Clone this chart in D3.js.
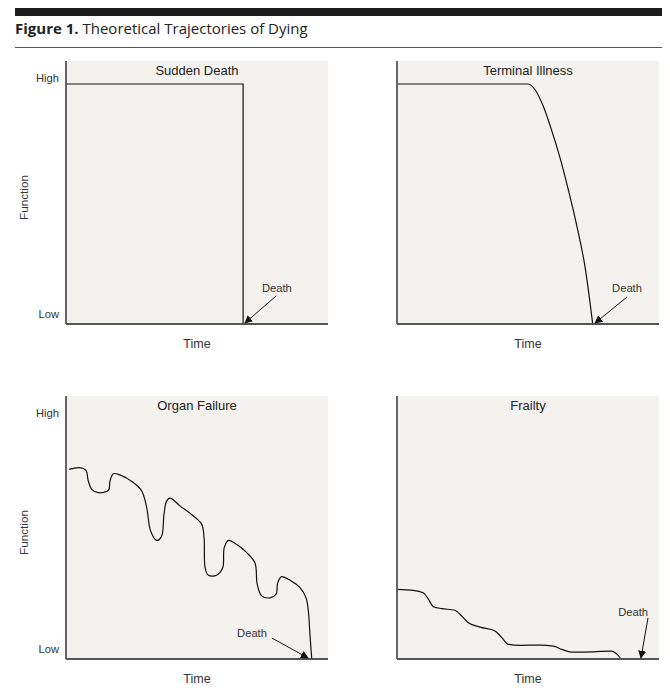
<!DOCTYPE html>
<html>
<head>
<meta charset="utf-8">
<script src="https://cdn.jsdelivr.net/npm/d3@7"></script>
<style>
  html, body { margin: 0; padding: 0; background: #fff; }
  svg { display: block; }
</style>
</head>
<body>
<svg id="chart" width="670" height="691"></svg>
<script>
// ---- Data (time 0-100, function 0 = Low, 100 = High) ----
const panelTitles = ["Sudden Death", "Terminal Illness", "Organ Failure", "Frailty"];
const yTickLabels = ["Low", "High"];
const xAxisLabel = "Time";
const yAxisLabel = "Function";
const deathLabel = "Death";

const suddenX = [0, 67.6, 67.6];
const suddenY = [100, 100, 0];

const terminalX = [0, 50.1, 52.7, 55.8, 59.0, 62.2, 65.4, 68.6, 71.8, 74.7];
const terminalY = [100, 100, 97.6, 90.8, 80.8, 69.3, 55.9, 41.1, 23.6, 0];

const organX = [1.2, 5.3, 7.6, 8.5, 9.8, 12.3, 16.2, 16.8, 18.1, 20.6, 25.7, 28.9, 30.8, 32.3, 34.6, 36.5, 37.4, 38.4, 39.7, 43.5, 48.6, 51.8, 52.7, 53.1, 54.3, 57.5, 59.8, 60.4, 62.0, 65.1, 69.0, 72.1, 73.0, 74.7, 77.9, 80.2, 80.8, 82.3, 85.5, 89.3, 91.6, 92.5, 93.1, 93.8];
const organY = [79.0, 79.7, 78.6, 74.2, 70.7, 69.3, 70.3, 74.2, 77.2, 76.7, 73.5, 70.0, 63.1, 53.3, 49.4, 51.2, 60.3, 65.8, 67.0, 63.8, 59.6, 56.1, 50.5, 38.0, 34.9, 34.9, 38.0, 46.4, 49.4, 47.8, 44.3, 40.1, 31.1, 26.3, 25.5, 27.0, 31.8, 34.3, 32.8, 29.7, 25.5, 20.0, 10.3, 0];

const frailX = [0, 6.2, 10.0, 12.0, 13.9, 17.1, 22.1, 24.7, 27.2, 31.7, 37.4, 40.0, 42.5, 46.9, 54.6, 59.7, 62.9, 66.7, 74.9, 81.9, 84.1, 85.8, 92.7];
const frailY = [29.0, 28.6, 27.6, 24.9, 21.8, 21.0, 20.3, 17.9, 15.1, 13.3, 11.7, 8.9, 6.1, 5.7, 5.8, 5.4, 4.0, 2.9, 3.0, 3.3, 1.9, 0, 0];

// "Death" annotations in data units: label point, arrow start, arrow tip
const deathLabelX = [80.5, 87.8, 71.0, 90.1];
const deathLabelY = [13.3, 13.3, 9.2, 17.9];
const arrowFromX = [80.2, 87.8, 78.6, 95.8];
const arrowFromY = [11.7, 11.25, 8.75, 17.1];
const arrowToX = [68.3, 75.6, 92.4, 93.1];
const arrowToY = [0.4, 0.4, 0.4, 0.4];

// ---- Layout ----
const svg = d3.select("#chart");
const panelW = 262, panelH = 263, highOffset = 240;
const panelLeft = [66, 397, 66, 397];
const panelTop = [61, 61, 396, 396];
const showY = [true, false, true, false];
const series = [
  [suddenX, suddenY, d3.curveLinear],
  [terminalX, terminalY, d3.curveMonotoneX],
  [organX, organY, d3.curveCatmullRom.alpha(0.5)],
  [frailX, frailY, d3.curveMonotoneX]
];

// Header
svg.append("rect").attr("x", 15).attr("y", 8).attr("width", 647).attr("height", 8).attr("fill", "#1c1c1c");
const title = svg.append("text").attr("x", 15).attr("y", 34)
  .attr("font-family", "'Open Sans', sans-serif").attr("font-size", 15).attr("fill", "#222");
title.append("tspan").attr("font-weight", "bold").text("Figure 1.");
title.append("tspan").text(" Theoretical Trajectories of Dying");
svg.append("line").attr("x1", 15).attr("x2", 662).attr("y1", 47.5).attr("y2", 47.5)
  .attr("stroke", "#555").attr("stroke-width", 1);

// Arrow marker
svg.append("defs").append("marker")
  .attr("id", "arrow").attr("viewBox", "0 0 10 10").attr("refX", 9).attr("refY", 5)
  .attr("markerWidth", 8).attr("markerHeight", 8).attr("markerUnits", "userSpaceOnUse")
  .attr("orient", "auto")
  .append("path").attr("d", "M0,0 L10,5 L0,10 z").attr("fill", "#111");

const fontLabel = "'Liberation Sans', Arial, sans-serif";

panelTitles.forEach((t, i) => {
  const left = panelLeft[i], top = panelTop[i], bottom = top + panelH;
  const x = d3.scaleLinear().domain([0, 100]).range([left, left + panelW]);
  const y = d3.scaleLinear().domain([0, 100]).range([bottom, bottom - highOffset]);
  const g = svg.append("g");

  g.append("rect").attr("x", left).attr("y", top).attr("width", panelW).attr("height", panelH)
    .attr("fill", "#f3f2ee");

  // curve
  const [xs, ys, curve] = series[i];
  const pts = xs.map((v, k) => [v, ys[k]]);
  g.append("path").datum(pts)
    .attr("d", d3.line().x(d => x(d[0])).y(d => y(d[1])).curve(curve))
    .attr("fill", "none").attr("stroke", "#111").attr("stroke-width", 1.2);

  // axes
  g.append("line").attr("x1", left).attr("x2", left).attr("y1", top).attr("y2", bottom)
    .attr("stroke", "#555").attr("stroke-width", 1.8);
  g.append("line").attr("x1", left).attr("x2", left + panelW).attr("y1", bottom).attr("y2", bottom)
    .attr("stroke", "#555").attr("stroke-width", 1.8);

  // panel title
  g.append("text").attr("x", x(50)).attr("y", top + 14).attr("text-anchor", "middle")
    .attr("font-family", fontLabel).attr("font-size", 13).attr("fill", "#222").text(t);

  // x label
  g.append("text").attr("x", x(50)).attr("y", bottom + 23.5).attr("text-anchor", "middle")
    .attr("font-family", fontLabel).attr("font-size", 12.5).attr("fill", "#333").text(xAxisLabel);

  if (showY[i]) {
    g.append("text").attr("x", left - 7).attr("y", y(100) - 2.5).attr("text-anchor", "end")
      .attr("font-family", fontLabel).attr("font-size", 11.2).attr("fill", "#333").text(yTickLabels[1]);
    g.append("text").attr("x", left - 7).attr("y", y(0) - 6).attr("text-anchor", "end")
      .attr("font-family", fontLabel).attr("font-size", 11.2).attr("fill", "#333").text(yTickLabels[0]);
    g.append("text")
      .attr("transform", `translate(${left - 38},${top + panelH / 2 + 5}) rotate(-90)`)
      .attr("text-anchor", "middle")
      .attr("font-family", fontLabel).attr("font-size", 11.7).attr("fill", "#333").text(yAxisLabel);
  }

  // death annotation
  g.append("text").attr("x", x(deathLabelX[i])).attr("y", y(deathLabelY[i])).attr("text-anchor", "middle")
    .attr("font-family", fontLabel).attr("font-size", 11.2).attr("fill", "#333").text(deathLabel);
  g.append("line")
    .attr("x1", x(arrowFromX[i])).attr("y1", y(arrowFromY[i]))
    .attr("x2", x(arrowToX[i])).attr("y2", y(arrowToY[i]))
    .attr("stroke", "#111").attr("stroke-width", 1)
    .attr("marker-end", "url(#arrow)");
});
</script>
</body>
</html>
